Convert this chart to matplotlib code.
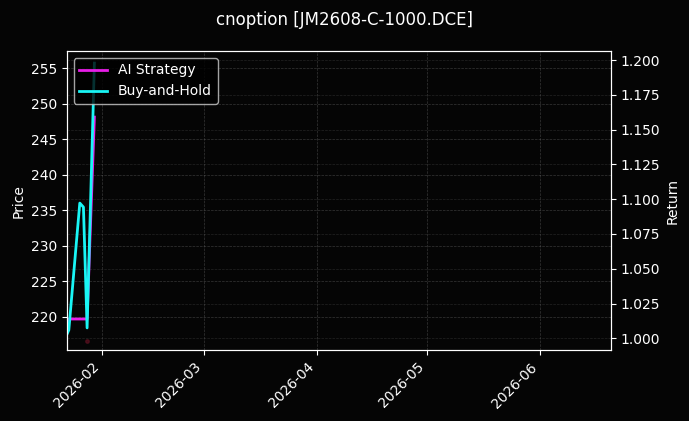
import matplotlib
matplotlib.use("Agg")
import matplotlib.pyplot as plt
import matplotlib.dates as mdates
import numpy as np
import pandas as pd

# values
dates = pd.to_datetime(["2026-01-22", "2026-01-23", "2026-01-26", "2026-01-27",
                        "2026-01-28", "2026-01-30"])
ai_strategy = [1.000, 1.0139, 1.0139, 1.0139, 1.0139, 1.159]
buy_hold = [1.000, 1.006, 1.0972, 1.0943, 1.0075, 1.1978]
signal_dates = pd.to_datetime(["2026-01-28"])
signal_values = [0.998]

title = "cnoption [JM2608-C-1000.DCE]"

plt.style.use("dark_background")
fig = plt.figure(figsize=(6.89, 4.21), dpi=100)
fig.patch.set_facecolor("#050505")
ax1 = fig.add_axes([0.0968, 0.1679, 0.7896, 0.711])
ax1.set_facecolor("#050505")
ax2 = ax1.twinx()

ax2.plot(dates, ai_strategy, color="#e81ee8", lw=2, label="AI Strategy")
ax2.plot(dates, buy_hold, color="#19f5f5", lw=2, label="Buy-and-Hold")
ax2.scatter(signal_dates, signal_values, s=6, color="#5a1020", alpha=0.7, zorder=1)

ax1.set_ylim(215.27, 257.44)
ax1.set_yticks(np.arange(220, 256, 5))
ax2.set_ylim(0.9914, 1.2065)
ax2.set_yticks(np.arange(1.0, 1.2001, 0.025))
ax2.yaxis.set_major_formatter(matplotlib.ticker.FormatStrFormatter("%.3f"))

ax1.set_xlim(pd.Timestamp("2026-01-22 10:00"), pd.Timestamp("2026-06-20 08:00"))
ax1.xaxis.set_major_locator(mdates.MonthLocator())
ax1.xaxis.set_major_formatter(mdates.DateFormatter("%Y-%m"))
plt.setp(ax1.get_xticklabels(), rotation=45, ha="right")

ax1.set_ylabel("Price")
ax2.set_ylabel("Return")
ax1.grid(True, ls="--", lw=0.5, color="gray", alpha=0.4)
ax2.grid(True, ls="--", lw=0.5, color="gray", alpha=0.25)

leg = ax2.legend(loc="upper left", facecolor="black", edgecolor="#cccccc", framealpha=0.8)
fig.suptitle(title, fontsize=12, y=0.975)

fig.savefig("out.png", dpi=100, facecolor=fig.get_facecolor())
